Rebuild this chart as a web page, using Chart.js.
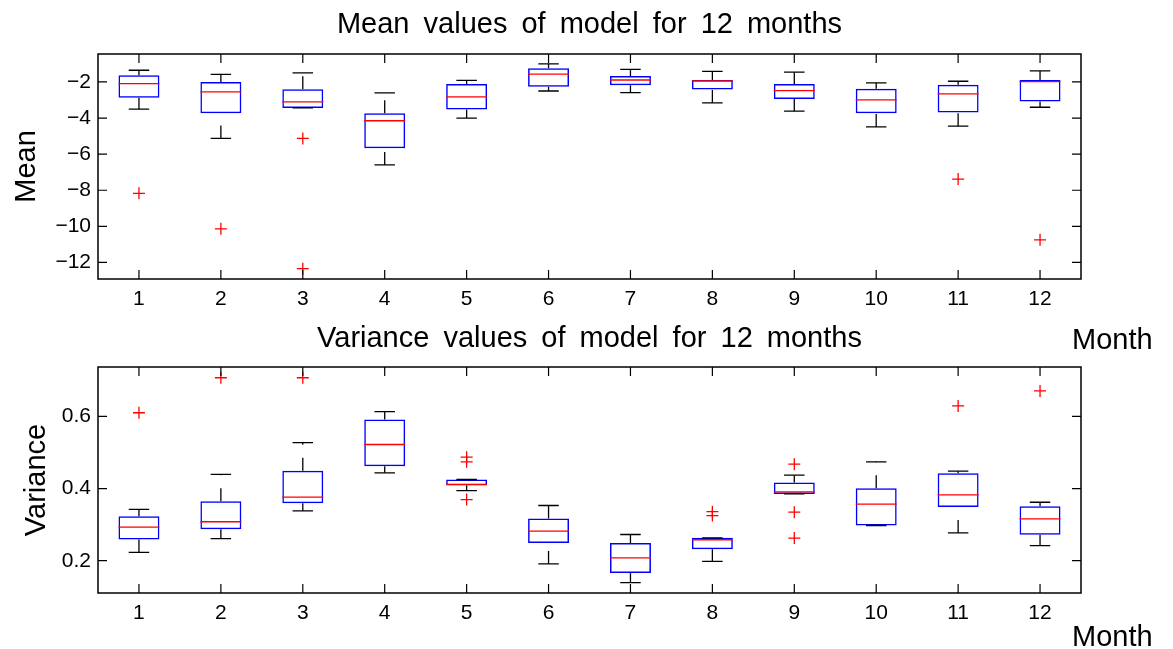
<!DOCTYPE html>
<html>
<head>
<meta charset="utf-8">
<script src="https://cdn.jsdelivr.net/npm/chart.js@4.4.1/dist/chart.umd.min.js"></script>
<style>
  html, body { margin: 0; padding: 0; background: #ffffff; }
  #wrap { position: relative; width: 1173px; height: 649px; overflow: hidden; background: #ffffff; }
  #meanChart, #varChart { position: absolute; left: 0; }
  #meanChart { top: 0; }
  #varChart { top: 310px; }
</style>
</head>
<body>
<div id="wrap">
  <canvas id="meanChart" width="1173" height="360"></canvas>
  <canvas id="varChart" width="1173" height="339"></canvas>
</div>
<script>
// Months on the category axis
const months = ['1', '2', '3', '4', '5', '6', '7', '8', '9', '10', '11', '12'];

// Monthly mean: whisker ends, quartiles and medians
const meanLow    = [-3.51, -5.13, -3.44, -6.60, -4.00, -2.50, -2.59, -3.16, -3.62, -4.49, -4.45, -3.40];
const meanQ1     = [-2.88, -3.73, -3.44, -5.68, -3.53, -2.27, -2.18, -2.42, -2.94, -3.73, -3.69, -3.08];
const meanMedian = [-2.09, -2.55, -3.10, -4.15, -2.83, -1.56, -1.89, -1.94, -2.48, -2.99, -2.66, -1.98];
const meanQ3     = [-1.63, -2.00, -2.40, -3.73, -2.11, -1.24, -1.67, -1.89, -2.11, -2.37, -2.15, -1.89];
const meanHigh   = [-1.35, -1.58, -1.50, -2.61, -1.91, -1.00, -1.30, -1.41, -1.46, -2.05, -1.96, -1.39];
const meanOutlierMonth = ['1', '2', '3', '3', '11', '12'];
const meanOutlierValue = [-8.17, -10.14, -5.13, -12.35, -7.38, -10.75];
const meanTicks = [-12, -10, -8, -6, -4, -2];

// Monthly variance: whisker ends, quartiles and medians
const varLow    = [0.223, 0.261, 0.338, 0.4435, 0.394, 0.191, 0.139, 0.198, 0.385, 0.2975, 0.277, 0.242];
const varQ1     = [0.259, 0.2875, 0.3595, 0.462, 0.409, 0.249, 0.1656, 0.232, 0.385, 0.2975, 0.3485, 0.2717];
const varMedian = [0.293, 0.308, 0.376, 0.522, 0.411, 0.282, 0.208, 0.258, 0.391, 0.357, 0.3825, 0.316];
const varQ3     = [0.3235, 0.365, 0.449, 0.591, 0.425, 0.317, 0.249, 0.2634, 0.4166, 0.401, 0.4427, 0.351];
const varHigh   = [0.342, 0.439, 0.527, 0.613, 0.425, 0.353, 0.2726, 0.2634, 0.437, 0.474, 0.448, 0.362];
const varOutlierMonth = ['1', '2', '3', '5', '5', '5', '8', '8', '9', '9', '9', '11', '12'];
const varOutlierValue = [0.610, 0.707, 0.707, 0.487, 0.474, 0.3695, 0.336, 0.325, 0.4676, 0.3346, 0.2626, 0.629, 0.6706];
const varTicks = [0.2, 0.4, 0.6];

const FONT = '"Liberation Sans", Arial, Helvetica, sans-serif';

// Whiskers, caps, medians, inward ticks, frame and text labels
const boxPlotExtras = {
  id: 'boxPlotExtras',
  afterDatasetsDraw(chart, args, opts) {
    const ctx = chart.ctx;
    const xs = chart.scales.x, ys = chart.scales.y;
    const step = xs.getPixelForValue(1) - xs.getPixelForValue(0);
    const boxHalf = step * 0.25, capHalf = step * 0.125;
    ctx.save();
    for (let i = 0; i < opts.median.length; i++) {
      const cx = xs.getPixelForValue(i);
      const yLow = ys.getPixelForValue(opts.low[i]);
      const yQ1 = ys.getPixelForValue(opts.q1[i]);
      const yQ3 = ys.getPixelForValue(opts.q3[i]);
      const yHigh = ys.getPixelForValue(opts.high[i]);
      const yMed = ys.getPixelForValue(opts.median[i]);
      // dashed whiskers, each drawn upward
      ctx.strokeStyle = '#000000';
      ctx.lineWidth = 1.3;
      ctx.setLineDash([13, 13]);
      ctx.beginPath();
      ctx.moveTo(cx, yQ3); ctx.lineTo(cx, yHigh);
      ctx.stroke();
      ctx.beginPath();
      ctx.moveTo(cx, yLow); ctx.lineTo(cx, yQ1);
      ctx.stroke();
      ctx.setLineDash([]);
      // caps
      ctx.beginPath();
      ctx.moveTo(cx - capHalf, yHigh); ctx.lineTo(cx + capHalf, yHigh);
      ctx.moveTo(cx - capHalf, yLow); ctx.lineTo(cx + capHalf, yLow);
      ctx.stroke();
      // median
      ctx.strokeStyle = '#ff0000';
      ctx.beginPath();
      ctx.moveTo(cx - boxHalf, yMed); ctx.lineTo(cx + boxHalf, yMed);
      ctx.stroke();
    }
    ctx.restore();
  },
  afterDraw(chart, args, opts) {
    const ctx = chart.ctx;
    const a = chart.chartArea;
    const xs = chart.scales.x, ys = chart.scales.y;
    ctx.save();
    ctx.strokeStyle = '#000000';
    ctx.lineWidth = 1.2;
    ctx.beginPath();
    const tl = 9;
    for (let i = 0; i < months.length; i++) {
      const px = xs.getPixelForValue(i);
      ctx.moveTo(px, a.bottom); ctx.lineTo(px, a.bottom - tl);
      ctx.moveTo(px, a.top); ctx.lineTo(px, a.top + tl);
    }
    opts.ticks.forEach(v => {
      const py = ys.getPixelForValue(v);
      ctx.moveTo(a.left, py); ctx.lineTo(a.left + tl, py);
      ctx.moveTo(a.right, py); ctx.lineTo(a.right - tl, py);
    });
    ctx.stroke();
    ctx.lineWidth = 1.5;
    ctx.strokeRect(a.left, a.top, a.right - a.left, a.bottom - a.top);

    ctx.fillStyle = '#000000';
    ctx.font = '29px ' + FONT;
    if ('wordSpacing' in ctx) ctx.wordSpacing = '6px';
    ctx.textAlign = 'center';
    ctx.textBaseline = 'alphabetic';
    ctx.fillText(opts.title, (a.left + a.right) / 2, opts.titleY);
    if ('wordSpacing' in ctx) ctx.wordSpacing = '0px';

    ctx.textAlign = 'left';
    ctx.fillText('Month', 1072, opts.monthY);

    ctx.save();
    ctx.translate(opts.yLabelX, (a.top + a.bottom) / 2);
    ctx.rotate(-Math.PI / 2);
    ctx.textAlign = 'center';
    ctx.fillText(opts.yLabel, 0, 0);
    ctx.restore();
    ctx.restore();
  }
};

function buildPanel(canvasId, p) {
  return new Chart(document.getElementById(canvasId), {
    type: 'bar',
    data: {
      labels: months,
      datasets: [
        {
          label: 'box',
          data: months.map((m, i) => [p.q1[i], p.q3[i]]),
          backgroundColor: 'rgba(0,0,0,0)',
          borderColor: '#0000ff',
          borderWidth: 1.5,
          borderSkipped: false,
          barPercentage: 0.5,
          categoryPercentage: 1,
          order: 2
        },
        {
          type: 'scatter',
          label: 'outliers',
          data: p.outMonth.map((m, i) => ({ x: m, y: p.outValue[i] })),
          pointStyle: 'cross',
          pointRadius: 6,
          pointHoverRadius: 6,
          borderColor: '#ff0000',
          backgroundColor: '#ff0000',
          borderWidth: 1.3,
          order: 1
        }
      ]
    },
    options: {
      responsive: false,
      animation: false,
      events: [],
      layout: { padding: { left: 0, right: 92, top: p.padTop, bottom: 0 } },
      plugins: {
        legend: { display: false },
        tooltip: { enabled: false },
        title: { display: false },
        boxPlotExtras: {
          low: p.low, q1: p.q1, median: p.median, q3: p.q3, high: p.high,
          ticks: p.ticks, title: p.title, titleY: p.titleY,
          yLabel: p.yLabel, yLabelX: p.yLabelX, monthY: p.monthY
        }
      },
      scales: {
        x: {
          type: 'category',
          offset: true,
          grid: { display: false, drawTicks: false },
          border: { display: false },
          ticks: { color: '#000000', font: { family: FONT, size: 21 }, padding: 8, maxRotation: 0 },
          afterFit(scale) { scale.height = p.xHeight; }
        },
        y: {
          min: p.min,
          max: p.max,
          grid: { display: false, drawTicks: false },
          border: { display: false },
          afterBuildTicks(scale) { scale.ticks = p.ticks.map(v => ({ value: v })); },
          ticks: {
            color: '#000000',
            font: { family: FONT, size: 21 },
            padding: 7,
            callback: p.fmt
          },
          afterFit(scale) { scale.width = 98; }
        }
      }
    },
    plugins: [boxPlotExtras]
  });
}

buildPanel('meanChart', {
  low: meanLow, q1: meanQ1, median: meanMedian, q3: meanQ3, high: meanHigh,
  outMonth: meanOutlierMonth, outValue: meanOutlierValue, ticks: meanTicks,
  min: -12.92, max: -0.45, padTop: 54, xHeight: 81,
  title: 'Mean values of model for 12 months', titleY: 33,
  yLabel: 'Mean', yLabelX: 35, monthY: 349,
  fmt: v => String(v).replace('-', '\u2212')
});

buildPanel('varChart', {
  low: varLow, q1: varQ1, median: varMedian, q3: varQ3, high: varHigh,
  outMonth: varOutlierMonth, outValue: varOutlierValue, ticks: varTicks,
  min: 0.1105, max: 0.7368, padTop: 57, xHeight: 56,
  title: 'Variance values of model for 12 months', titleY: 37,
  yLabel: 'Variance', yLabelX: 45, monthY: 336,
  fmt: v => Number(v).toFixed(1)
});
</script>
</body>
</html>
